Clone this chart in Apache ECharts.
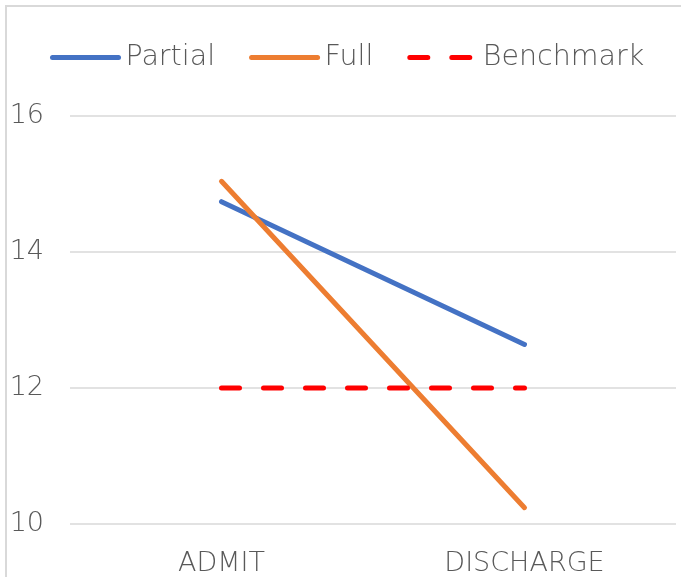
<!DOCTYPE html>
<html>
<head>
<meta charset="utf-8">
<script src="https://cdn.jsdelivr.net/npm/echarts@6/dist/echarts.min.js"></script>
<style>
html,body{margin:0;padding:0;background:#fff;}
#chart{width:681px;height:577px;}
</style>
</head>
<body>
<div id="chart"></div>
<script>
const categories = ['ADMIT', 'DISCHARGE'];
const partial = [14.74, 12.64];
const full = [15.04, 10.24];
const benchmark = [12, 12];
const yTicks = { min: 10, max: 16, interval: 2 };

const textColor = '#595959';
const fontFamily = '"DejaVu Sans", sans-serif';
const fontWeight = 200;

const chart = echarts.init(document.getElementById('chart'), null, { renderer: 'canvas' });
chart.setOption({
  animation: false,
  backgroundColor: '#ffffff',
  graphic: [{
    type: 'rect',
    silent: true,
    shape: { x: 6, y: 6, width: 720, height: 620 },
    style: { fill: 'none', stroke: '#d9d9d9', lineWidth: 2 }
  }],
  legend: {
    left: 45,
    top: 38,
    itemWidth: 66,
    itemHeight: 30,
    itemGap: 34,
    itemStyle: { opacity: 0 },
    lineStyle: { width: 5, cap: 'round' },
    textStyle: { color: textColor, fontSize: 28.5, fontFamily: fontFamily, fontWeight: fontWeight, padding: [0, 0, 0, 2] }
  },
  grid: { left: 70, right: 5, top: 116, bottom: 53, containLabel: false },
  xAxis: {
    type: 'category',
    data: categories,
    boundaryGap: true,
    axisLine: { show: false },
    axisTick: { show: false },
    axisLabel: { color: textColor, fontSize: 27, fontFamily: fontFamily, fontWeight: fontWeight, margin: 26 }
  },
  yAxis: {
    type: 'value',
    min: yTicks.min,
    max: yTicks.max,
    interval: yTicks.interval,
    axisLine: { show: false },
    axisTick: { show: false },
    axisLabel: { color: textColor, fontSize: 27, fontFamily: fontFamily, fontWeight: fontWeight, margin: 26 },
    splitLine: { lineStyle: { color: '#d9d9d9', width: 1.5 } }
  },
  series: [
    { name: 'Partial', type: 'line', data: partial, symbol: 'none', color: '#4472C4',
      lineStyle: { width: 5, cap: 'round', color: '#4472C4' } },
    { name: 'Full', type: 'line', data: full, symbol: 'none', color: '#ED7D31',
      lineStyle: { width: 5, cap: 'round', color: '#ED7D31' } },
    { name: 'Benchmark', type: 'line', data: benchmark, symbol: 'none', color: '#FF0000',
      lineStyle: { width: 5, cap: 'round', type: [18, 24], color: '#FF0000' } }
  ]
});
</script>
</body>
</html>
